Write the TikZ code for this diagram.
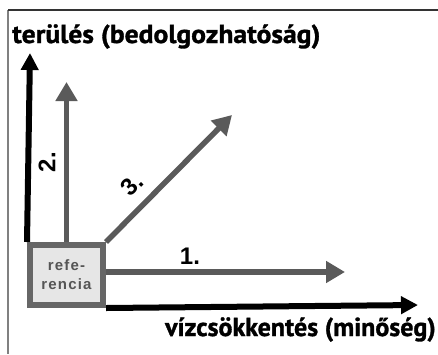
\documentclass[tikz,border=0pt]{standalone}
\usepackage{fontspec}
\setmainfont{PT Sans}[BoldFeatures={FakeBold=1.2}]
\newfontfamily\labelfont{Liberation Sans}
\newfontfamily\boxfont[LetterSpace=8]{Liberation Sans}
\usetikzlibrary{arrows.meta,backgrounds}
\definecolor{arrowgray}{HTML}{5A5A5A}
\definecolor{boxedge}{HTML}{666666}
\definecolor{boxfill}{HTML}{E6E6E6}
\definecolor{boxtext}{HTML}{555555}
\definecolor{framegray}{HTML}{808080}
\tikzset{
  axis/.style={line width=6pt, draw=black,
    -{Triangle[length=17pt, width=17pt]}},
  variant/.style={line width=5.5pt, draw=arrowgray,
    -{Triangle[length=19pt, width=21pt]}},
  refbox/.style={draw=boxedge, fill=boxfill, line width=6pt,
    minimum width=73pt, minimum height=60pt, inner sep=0pt,
    align=center, text=boxtext,
    font=\boxfont\bfseries\fontsize{15}{19}\selectfont},
  axislabel/.style={inner sep=0pt, font=\bfseries\fontsize{26}{29}\selectfont},
  numlabel/.style={inner sep=0pt, text=black,
    font=\labelfont\bfseries\fontsize{24}{27}\selectfont},
}
\begin{document}
\begin{tikzpicture}[x=1pt, y=-1pt]
  \useasboundingbox (0,0) rectangle (438,354);

  % frame lines
  \draw[framegray, line width=1.5pt] (8,10) -- (8,354);
  \draw[black!80, line width=1.5pt] (8,10) -- (438,10);

  % axis titles
  \node[axislabel, anchor=base west] (ytitle) at (12,43)
    {\scalebox{1.06}[1]{terülés (bedolgozhatóság)}};
  \node[axislabel, anchor=base east] (xtitle) at (436,336)
    {vízcsökkentés (minőség)};

  % reference box
  \node[refbox] (ref) at (66.5,275) {refe-\\rencia};

  % end points of the arrows
  \coordinate (ytip) at (30,53);
  \coordinate (xtip) at (418,305);
  \coordinate (tip1) at (345,272);
  \coordinate (tip2) at (66.5,82);
  \coordinate (tip3) at (232,115);

  % arrows go behind the box
  \begin{scope}[on background layer]
    \fill[white] (0,0) rectangle (438,354);
    \draw[axis] (ref.north west) -- (ytip);
    \draw[axis] (ref.south east) -- (xtip);
    \draw[variant] (ref.east |- tip1) -- (tip1);
    \draw[variant] (ref.north) -- (tip2);
    \draw[variant] (ref.north east) -- (tip3);
  \end{scope}

  % variant numbers
  \node[numlabel] (n1) at (190,256) {1.};
  \node[numlabel, rotate=90] (n2) at (47,162) {2.};
  \node[numlabel, rotate=45] (n3) at (132,185) {3.};
\end{tikzpicture}
\end{document}
